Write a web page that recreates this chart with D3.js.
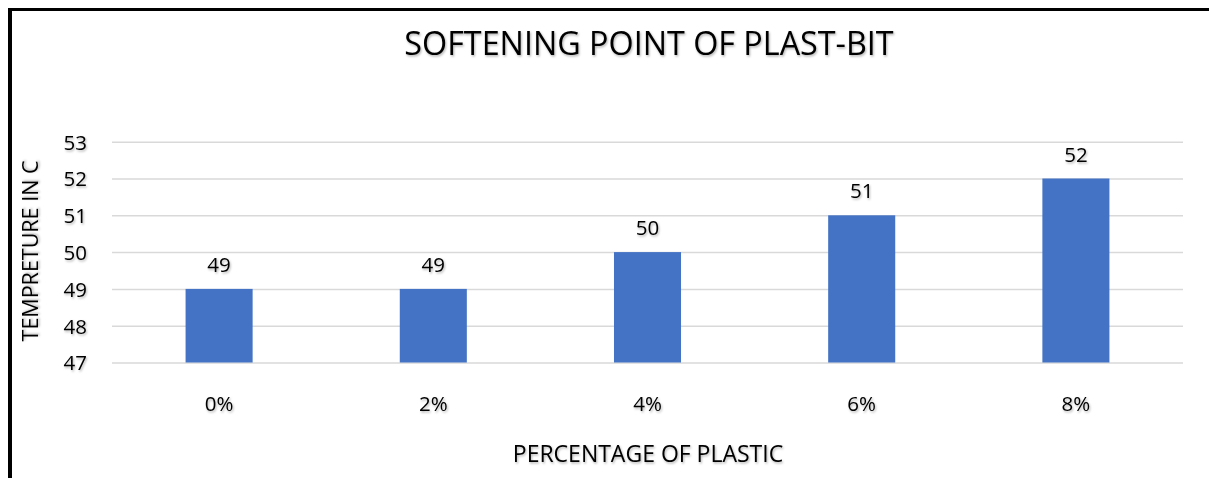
<!DOCTYPE html>
<html>
<head>
<meta charset="utf-8">
<script src="https://cdn.jsdelivr.net/npm/d3@7"></script>
<style>
  html, body { margin: 0; padding: 0; background: #fff; }
  svg { display: block; }
  text { font-family: "Open Sans", Lato, "Liberation Sans", sans-serif; fill: #000; }
</style>
</head>
<body>
<svg id="chart" width="1209" height="478"></svg>
<script>
const title = "SOFTENING POINT OF PLAST-BIT";
const xTitle = "PERCENTAGE OF PLASTIC";
const yTitle = "TEMPRETURE IN C";
const categories = ["0%", "2%", "4%", "6%", "8%"];
const values = [49, 49, 50, 51, 52];
const yTicks = [47, 48, 49, 50, 51, 52, 53];

const W = 1209, H = 478;
const svg = d3.select("#chart");

const defs = svg.append("defs");
const f = defs.append("filter").attr("id", "shadow").attr("x", "-10%").attr("y", "-30%").attr("width", "130%").attr("height", "170%");
f.append("feDropShadow").attr("dx", 1).attr("dy", 1.5).attr("stdDeviation", 1).attr("flood-color", "#000").attr("flood-opacity", 0.3);

// frame lines (left & top)
svg.append("rect").attr("x", 8).attr("y", 8).attr("width", 4).attr("height", H - 8).attr("fill", "#000");
svg.append("rect").attr("x", 8).attr("y", 8).attr("width", W - 8).attr("height", 3).attr("fill", "#000");

const plot = { left: 112, right: 1183, top: 141.7, bottom: 362.5 };

const x = d3.scaleBand().domain(categories).range([plot.left, plot.right])
  .paddingInner(0.687).paddingOuter(0.687 / 2);
const y = d3.scaleLinear().domain([47, 53]).range([plot.bottom, plot.top]);

// gridlines
const grid = svg.append("g")
  .attr("transform", `translate(${plot.left},0)`)
  .call(d3.axisLeft(y).tickValues(yTicks).tickSize(-(plot.right - plot.left)).tickFormat(""));
grid.select(".domain").remove();
grid.selectAll(".tick line").attr("stroke", "#d9d9d9").attr("stroke-width", 1.5);

// y tick labels
const yAxis = svg.append("g")
  .attr("transform", `translate(87,0)`)
  .call(d3.axisLeft(y).tickValues(yTicks).tickSize(0).tickPadding(0).tickFormat(d3.format("d")));
yAxis.select(".domain").remove();
yAxis.selectAll("text")
  .style("font-size", "20.5px").attr("fill", "#000").attr("dy", "0.36em")
  .attr("filter", "url(#shadow)");

// bars
svg.append("g").selectAll("rect").data(values).join("rect")
  .attr("x", (d, i) => x(categories[i]))
  .attr("width", x.bandwidth())
  .attr("y", d => y(d))
  .attr("height", d => y(47) - y(d))
  .attr("fill", "#4472C4");

// value labels
svg.append("g").selectAll("text").data(values).join("text")
  .attr("x", (d, i) => x(categories[i]) + x.bandwidth() / 2)
  .attr("y", d => y(d) - 17)
  .attr("text-anchor", "middle")
  .style("font-size", "20.5px")
  .attr("filter", "url(#shadow)")
  .text(d => d);

// x axis labels
const xAxis = svg.append("g")
  .attr("transform", `translate(0,${plot.bottom})`)
  .call(d3.axisBottom(x).tickSize(0).tickPadding(0));
xAxis.select(".domain").remove();
xAxis.selectAll("text")
  .style("font-size", "20.5px").attr("fill", "#000")
  .attr("y", 48.5).attr("dy", 0)
  .attr("filter", "url(#shadow)");

// titles
svg.append("text")
  .attr("x", 649).attr("y", 55)
  .attr("text-anchor", "middle")
  .style("font-size", "32.3px")
  .attr("filter", "url(#shadow)")
  .text(title);

svg.append("text")
  .attr("x", 648).attr("y", 462)
  .attr("text-anchor", "middle")
  .style("font-size", "23px")
  .attr("filter", "url(#shadow)")
  .text(xTitle);

svg.append("text")
  .attr("transform", "translate(38,251) rotate(-90)")
  .attr("text-anchor", "middle")
  .style("font-size", "21.5px")
  .attr("filter", "url(#shadow)")
  .text(yTitle);
</script>
</body>
</html>
